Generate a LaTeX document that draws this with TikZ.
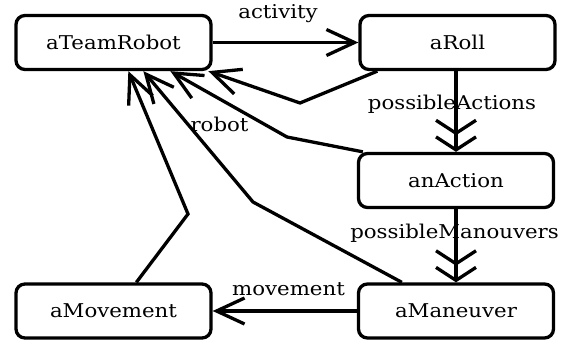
\documentclass[tikz,border=0pt]{standalone}
\usepackage{fontspec}
\newfontfamily\lab[FakeStretch=1.12]{DejaVu Serif}
\usetikzlibrary{arrows.meta,calc}
\tikzset{
  obj/.style={draw, line width=3.3pt, rounded corners=9pt, minimum width=195pt,
    minimum height=54pt, inner sep=0pt, font=\lab\fontsize{19}{21}\selectfont},
  lbl/.style={inner sep=0pt, font=\lab\fontsize{19}{21}\selectfont},
  conn/.style={line width=3.3pt},
  one/.style={-{Straight Barb[length=28pt,width=26pt]}},
  many/.style={-{Straight Barb[length=13pt,width=40pt] Straight Barb[length=13pt,width=40pt]}}
}
\begin{document}
\begin{tikzpicture}[x=1pt,y=-1pt]
\useasboundingbox (0,0) rectangle (569,340);
\node[obj] (tr)   at (113.5,42.5) {aTeamRobot};
\node[obj] (roll) at (457.5,42.5) {aRoll};
\node[obj] (act)  at (456,180.5) {anAction};
\node[obj] (man)  at (456,311) {aManeuver};
\node[obj] (mov)  at (113.5,311) {aMovement};

\coordinate (b1) at (300,103);
\coordinate (b2) at (287,137);
\coordinate (b3) at (253,202);
\coordinate (b4) at (188,214);

\draw[conn,one] (tr.east) -- (roll.west);
\draw[conn,many] (act.north |- roll.south) -- (act.north);
\draw[conn,many] (act.south) -- (man.north);
\draw[conn,one] (man.west) -- (mov.east);

\draw[conn,one] ($(roll.south west)+(19,0)$) -- (b1) -- ($(tr.south west)+(194,0)$);
\draw[conn,one] ($(act.north west)+(6,0)$) -- (b2) -- ($(tr.south west)+(156,0)$);
\draw[conn,one] ($(man.north west)+(45,0)$) -- (b3) -- ($(tr.south west)+(129,0)$);
\draw[conn,one] ($(mov.north west)+(122,0)$) -- (b4) -- ($(tr.south west)+(114,0)$);

\node[lbl] (l1) at (278,14) {activity};
\node[lbl] (l2) at (452,104) {possibleActions};
\node[lbl] (l3) at (454.5,233) {possibleManouvers};
\node[lbl] (l4) at (288.5,289) {movement};
\node[lbl] (l5) at (219.5,124) {robot};
\end{tikzpicture}
\end{document}
